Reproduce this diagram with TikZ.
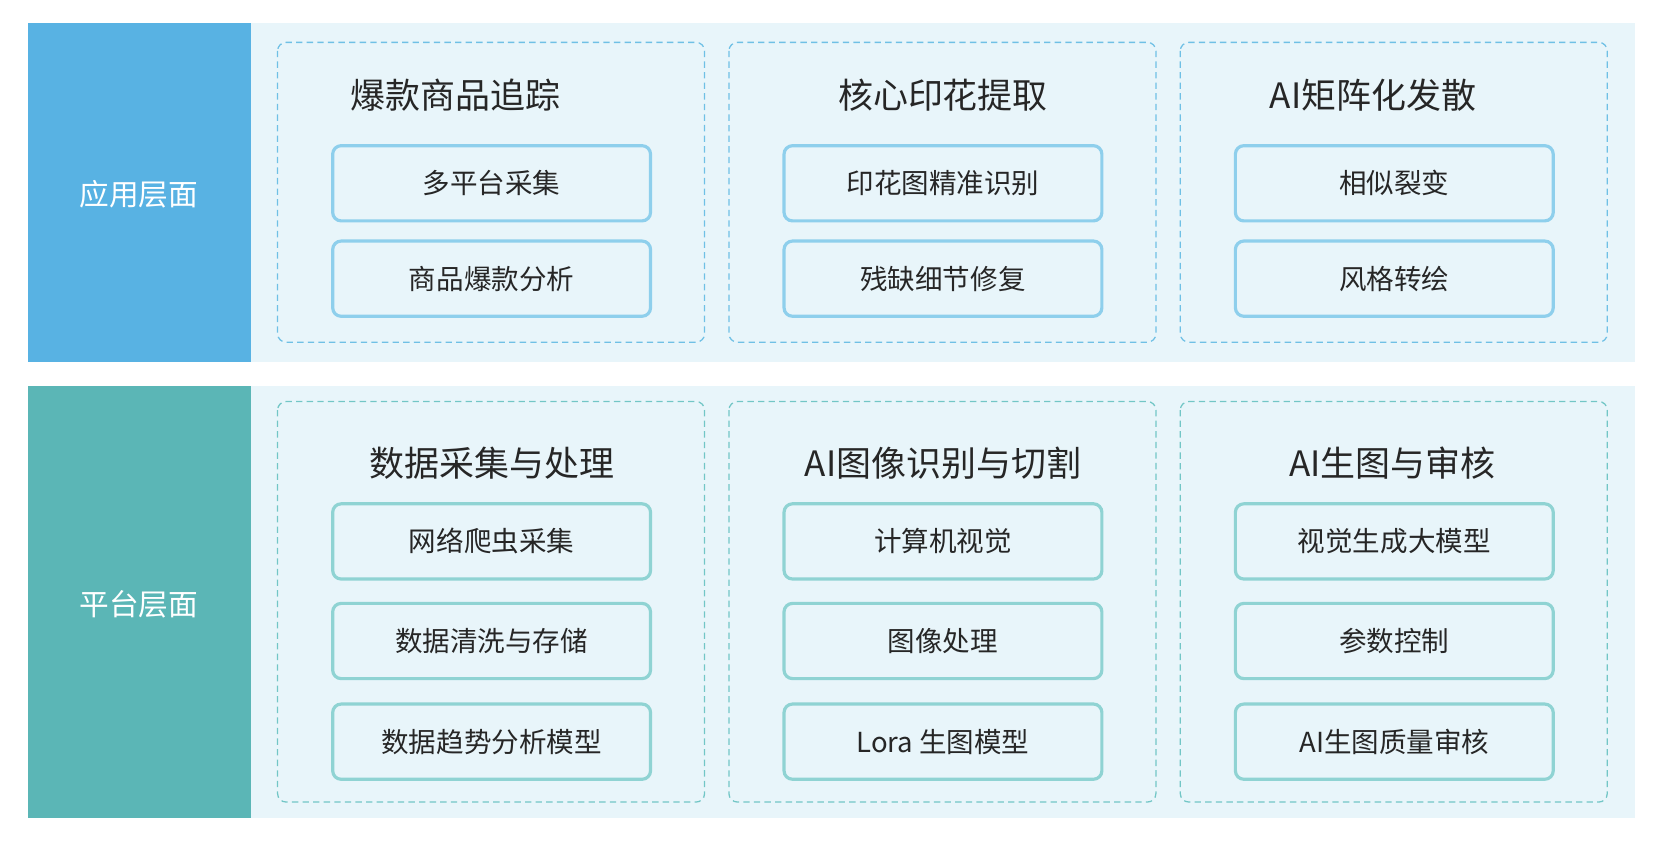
\documentclass[tikz,border=0pt]{standalone}
\usepackage{fontspec}
\setmainfont{Noto Sans CJK SC}
\begin{document}
\begin{tikzpicture}[x=1pt,y=-1pt,
  grp/.style={draw=#1,dashed,dash pattern=on 6pt off 4pt,line width=1.2pt,rounded corners=8pt},
  item/.style={draw=#1,line width=3pt,rounded corners=8pt,fill=lightbg,minimum width=300pt,minimum height=71pt,font=\fontsize{26}{30}\selectfont,text=black!85},
  ttl/.style={font=\fontsize{33}{38}\selectfont,text=black!85},
  side/.style={font=\fontsize{28}{32}\selectfont,text=white}]
\definecolor{lightbg}{HTML}{E8F5FA}
\definecolor{bluebar}{HTML}{58B2E3}
\definecolor{tealbar}{HTML}{5BB6B6}
\definecolor{blueln}{HTML}{8ECFEC}
\definecolor{tealln}{HTML}{8FD3D3}
\definecolor{bluedash}{HTML}{6FC0E5}
\definecolor{tealdash}{HTML}{72C6C6}
\useasboundingbox (0,0) rectangle (1563,795);
\fill[white] (0,0) rectangle (1563,795);
% top band
\fill[lightbg] (237,22) rectangle (1543,342);
\fill[bluebar] (26,22) rectangle (237,342);
\node[side] (l1) at (131,183) {应用层面};
\fill[lightbg] (237,364) rectangle (1543,772);
\fill[tealbar] (26,364) rectangle (237,772);
\node[side] (l2) at (131,570) {平台层面};
% groups
\foreach \x in {262,688,1114}{
  \draw[grp=bluedash] (\x,40) rectangle ++(403,283);
  \draw[grp=tealdash] (\x,379) rectangle ++(403,378);
}
\node[ttl] (t1) at (430,90) {爆款商品追踪};
\node[ttl] (t2) at (890,90) {核心印花提取};
\node[ttl] (t3) at (1296,90) {AI矩阵化发散};
\node[ttl] (t4) at (464,437) {数据采集与处理};
\node[ttl] (t5) at (890,437) {AI图像识别与切割};
\node[ttl] (t6) at (1314,437) {AI生图与审核};
\node[item=blueln] (a1) at (464,173) {多平台采集};
\node[item=blueln] (a2) at (464,263) {商品爆款分析};
\node[item=blueln] (b1) at (890,173) {印花图精准识别};
\node[item=blueln] (b2) at (890,263) {残缺细节修复};
\node[item=blueln] (c1) at (1316,173) {相似裂变};
\node[item=blueln] (c2) at (1316,263) {风格转绘};
\node[item=tealln] (d1) at (464,511) {网络爬虫采集};
\node[item=tealln] (d2) at (464,605) {数据清洗与存储};
\node[item=tealln] (d3) at (464,700) {数据趋势分析模型};
\node[item=tealln] (e1) at (890,511) {计算机视觉};
\node[item=tealln] (e2) at (890,605) {图像处理};
\node[item=tealln] (e3) at (890,700) {Lora 生图模型};
\node[item=tealln] (f1) at (1316,511) {视觉生成大模型};
\node[item=tealln] (f2) at (1316,605) {参数控制};
\node[item=tealln] (f3) at (1316,700) {AI生图质量审核};
\end{tikzpicture}
\end{document}
